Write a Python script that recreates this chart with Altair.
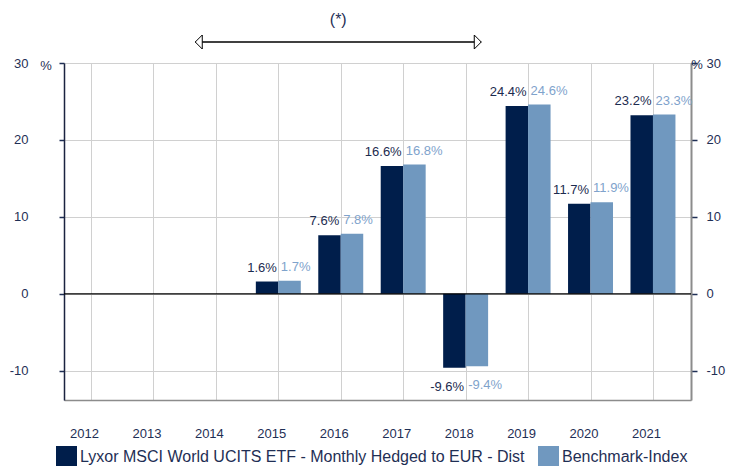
import altair as alt
import pandas as pd

# ---- data -------------------------------------------------------------
all_years = list(range(2012, 2022))
years = [2015, 2016, 2017, 2018, 2019, 2020, 2021]
fund = [1.6, 7.6, 16.6, -9.6, 24.4, 11.7, 23.2]
bench = [1.7, 7.8, 16.8, -9.4, 24.6, 11.9, 23.3]
series_names = ["Lyxor MSCI World UCITS ETF - Monthly Hedged to EUR - Dist", "Benchmark-Index"]
y_ticks = [-10, 0, 10, 20, 30]
arrow_span = [2013.67, 2018.25]
arrow_note = ["(*)"]

FUND_C = "#001e4b"
BENCH_C = "#7098bf"
TXT = "#1f2f55"
FUND_TXT = "#1c2b4f"
BENCH_TXT = "#7fa3cc"
FONT = "Liberation Sans"

rows = []
for i, yr in enumerate(years):
    rows.append({"year": yr, "series": series_names[0], "value": fund[i], "side": -1})
    rows.append({"year": yr, "series": series_names[1], "value": bench[i], "side": 1})
df = pd.DataFrame(rows)

xs = alt.Scale(domain=[2011.568, 2021.609], nice=False, zero=False)
ys = alt.Scale(domain=[-13.8, 30], nice=False, zero=False)

x_axis = alt.Axis(values=all_years, grid=True, gridColor="#d0d0d0", gridWidth=1,
                  domain=True, domainColor="#8c8c8c", domainWidth=1.5, ticks=False,
                  labelFontSize=13, labelColor=TXT, labelFont=FONT, labelPadding=27,
                  labelOffset=-7, labelFlush=False, labelOverlap=False, title=None,
                  labelExpr="toString(datum.value)")
y_axis = alt.Axis(values=y_ticks, grid=True, gridColor="#d0d0d0", gridWidth=1,
                  domainColor="#1b2340", domainWidth=1.5, tickColor=TXT, tickSize=5,
                  tickWidth=1.5, labelFontSize=13, labelColor=TXT, labelFont=FONT,
                  labelPadding=31, title=None, labelExpr="toString(datum.value)")
y_axis_r = alt.Axis(orient="right", values=y_ticks, grid=False, domainColor="#8c8c8c",
                    domainWidth=2, tickColor=TXT, tickSize=6, tickWidth=1.5,
                    labelFontSize=13, labelColor=TXT, labelFont=FONT, labelPadding=9,
                    title=None, labelExpr="toString(datum.value)")


def X(field):
    return alt.X(field, type="quantitative", scale=xs, axis=x_axis)


def Y(field):
    return alt.Y(field, type="quantitative", scale=ys, axis=y_axis)


base = alt.Chart(df).transform_calculate(
    xa="datum.year",
    xb="datum.year + datum.side * 0.36",
    label="replace(format(datum.value, '.1f'), '\u2212', '-') + '%'",
)

bars = base.mark_bar().encode(
    x=X("xa"), x2="xb:Q",
    y=Y("value"), y2=alt.datum(0),
    color=alt.Color("series:N", scale=alt.Scale(domain=series_names, range=[FUND_C, BENCH_C]),
                    legend=alt.Legend(orient="none", legendX=-8, legendY=383,
                                      direction="horizontal", title=None, symbolType="square",
                                      symbolSize=441, symbolStrokeWidth=0, symbolOpacity=1,
                                      labelFontSize=16, labelColor=TXT, labelFont=FONT,
                                      labelOffset=3, columnPadding=13, labelLimit=0)),
)


def label_layer(cond, align, dx, dy, color):
    return base.transform_filter(cond).mark_text(
        align=align, dx=dx, dy=dy, baseline="alphabetic", fontSize=13, font=FONT, color=color
    ).encode(x=X("xa"), y=Y("value"), text="label:N")


lab_fp = label_layer("datum.side < 0 && datum.value >= 0", "right", -1.5, -10, FUND_TXT)
lab_bp = label_layer("datum.side > 0 && datum.value >= 0", "left", 2.5, -10, BENCH_TXT)
lab_fn = label_layer("datum.side < 0 && datum.value < 0", "right", -1.5, 23, FUND_TXT)
lab_bn = label_layer("datum.side > 0 && datum.value < 0", "left", 2.5, 23, BENCH_TXT)

ann = alt.Chart(pd.DataFrame({"x0": [arrow_span[0]], "x1": [arrow_span[1]], "note": arrow_note})
                ).transform_calculate(mid="(datum.x0 + datum.x1) / 2")
arrow_line = ann.mark_rule(color="black", strokeWidth=1.5).encode(
    x=X("x0"), x2="x1:Q", y=alt.value(-21))
head_l = ann.mark_point(shape="M 0 0 L 1 -1 L 1 1 Z", size=196, filled=True, fill="white",
                        stroke="black", strokeWidth=1, opacity=1).encode(x=X("x0"), y=alt.value(-21))
head_r = ann.mark_point(shape="M 0 0 L -1 -1 L -1 1 Z", size=196, filled=True, fill="white",
                        stroke="black", strokeWidth=1, opacity=1).encode(x=X("x1"), y=alt.value(-21))
note = ann.mark_text(fontSize=16, font=FONT, color=TXT, baseline="middle").encode(
    x=X("mid"), y=alt.value(-43), text="note:N")

pct = alt.Chart(pd.DataFrame({"t": ["%"]}))
pct_l = pct.mark_text(fontSize=13, font=FONT, color=TXT, baseline="middle").encode(
    x=alt.value(-18), y=alt.value(3), text="t:N")
pct_r = pct.mark_text(fontSize=13, font=FONT, color=TXT, baseline="middle").encode(
    x=alt.value(633), y=alt.value(2), text="t:N")

inner = alt.layer(bars, lab_fp, lab_bp, lab_fn, lab_bn, arrow_line, head_l, head_r, note, pct_l, pct_r)

zero = alt.Chart(pd.DataFrame({"zero": [0]})).mark_rule(color="black", strokeWidth=1.2).encode(
    y=alt.Y("zero:Q", scale=ys, axis=y_axis_r))

chart = alt.layer(inner, zero).resolve_axis(y="independent").properties(
    width=627, height=337,
    autosize=alt.AutoSizeParams(type="none"),
    padding={"left": 56, "top": 55, "right": 35, "bottom": 66},
).configure_view(stroke=None).configure(font=FONT)

chart.save("out.html", embed_options={"renderer": "svg", "actions": False})
